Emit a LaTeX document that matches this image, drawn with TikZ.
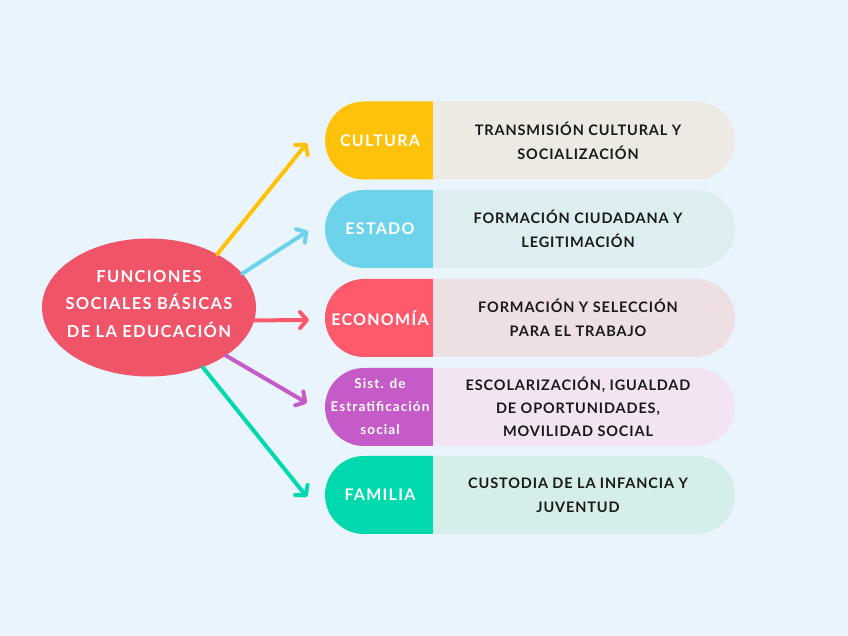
\documentclass[tikz,border=0pt]{standalone}
\usepackage{fontspec}
\setmainfont{Lato}
\usetikzlibrary{shapes.geometric,arrows.meta}
\definecolor{bgc}{HTML}{EAF4FD}
\definecolor{cyel}{HTML}{FFC20A}
\definecolor{ccya}{HTML}{6DD3EB}
\definecolor{cell}{HTML}{F05468}
\definecolor{cred}{HTML}{FF5A6C}
\definecolor{cpur}{HTML}{C45BC8}
\definecolor{cgre}{HTML}{00D9AE}
\definecolor{rA}{HTML}{EDEAE3}
\definecolor{rB}{HTML}{DDEEF1}
\definecolor{rC}{HTML}{EEDFE2}
\definecolor{rD}{HTML}{F3E4F3}
\definecolor{rE}{HTML}{D5EEE9}
\definecolor{txt}{HTML}{1A1A1A}
\newcommand{\leftbox}[2]{\fill[#1] (433,#2+39) -- (364,#2+39) arc[start angle=90,end angle=270,radius=39pt] -- (433,#2-39) -- cycle;}
\newcommand{\rightbox}[2]{\fill[#1] (433,#2+39) -- (696,#2+39) arc[start angle=90,end angle=-90,radius=39pt] -- (433,#2-39) -- cycle;}
\tikzset{
  lbl/.style={text=white, align=center, font=\bfseries\fontsize{16}{20}\selectfont\addfontfeatures{LetterSpace=8}, inner sep=0},
  rlbl/.style={text=txt, align=center, font=\bfseries\fontsize{14.5}{24}\selectfont\addfontfeatures{LetterSpace=6}, inner sep=0},
  arr/.style={line width=4pt, line cap=round, -{Straight Barb[length=7pt,width=16pt,line cap=round,line join=round]}},
}
\begin{document}
\begin{tikzpicture}[x=1pt,y=1pt]
\fill[bgc] (0,0) rectangle (848,636);
\useasboundingbox (0,0) rectangle (848,636);
% boxes
\leftbox{cyel}{495.5}\rightbox{rA}{495.5}
\leftbox{ccya}{407}\rightbox{rB}{407}
\leftbox{cred}{318}\rightbox{rC}{318}
\leftbox{cpur}{229}\rightbox{rD}{229}
\leftbox{cgre}{141}\rightbox{rE}{141}
% left labels
\node[lbl] (cul) at (380,495.5) {CULTURA};
\node[lbl] (est) at (380,407) {ESTADO};
\node[lbl] (eco) at (380,318) {ECONOMÍA};
\node[lbl, font=\bfseries\fontsize{13.5}{23}\selectfont\addfontfeatures{LetterSpace=8}] (sis) at (380,229) {Sist. de\\Estratificación\\social};
\node[lbl] (fam) at (380,141) {FAMILIA};
% right labels
\node[rlbl] (t1) at (578,495.5) {TRANSMISIÓN CULTURAL Y\\SOCIALIZACIÓN};
\node[rlbl] (t2) at (578,407) {FORMACIÓN CIUDADANA Y\\LEGITIMACIÓN};
\node[rlbl] (t3) at (578,318) {FORMACIÓN Y SELECCIÓN\\PARA EL TRABAJO};
\node[rlbl, font=\bfseries\fontsize{14.5}{23}\selectfont\addfontfeatures{LetterSpace=6}] (t4) at (578,229.5) {ESCOLARIZACIÓN, IGUALDAD\\DE OPORTUNIDADES,\\MOVILIDAD SOCIAL};
\node[rlbl] (t5) at (578,141) {CUSTODIA DE LA INFANCIA Y\\JUVENTUD};
% central ellipse
\node[ellipse, fill=cell, minimum width=214pt, minimum height=138pt, inner sep=0] (ell) at (149,328.5) {};
\node[lbl, font=\bfseries\fontsize{16.5}{27.5}\selectfont\addfontfeatures{LetterSpace=8}] (eltxt) at (149,332) {FUNCIONES\\SOCIALES BÁSICAS\\DE LA EDUCACIÓN};
% arrow ends
\coordinate (e1) at (307,493);
\coordinate (e2) at (308,405);
\coordinate (e3) at (309,316);
\coordinate (e4) at (307,233);
\coordinate (e5) at (307,139);
\draw[arr, cyel] (ell.38) -- (e1);
\draw[arr, ccya] (ell.20) -- (e2);
\draw[arr, cred] (ell.-7) -- (e3);
\draw[arr, cpur] (ell.-32) -- (e4);
\draw[arr, cgre] (ell.-48) -- (e5);
\end{tikzpicture}
\end{document}
